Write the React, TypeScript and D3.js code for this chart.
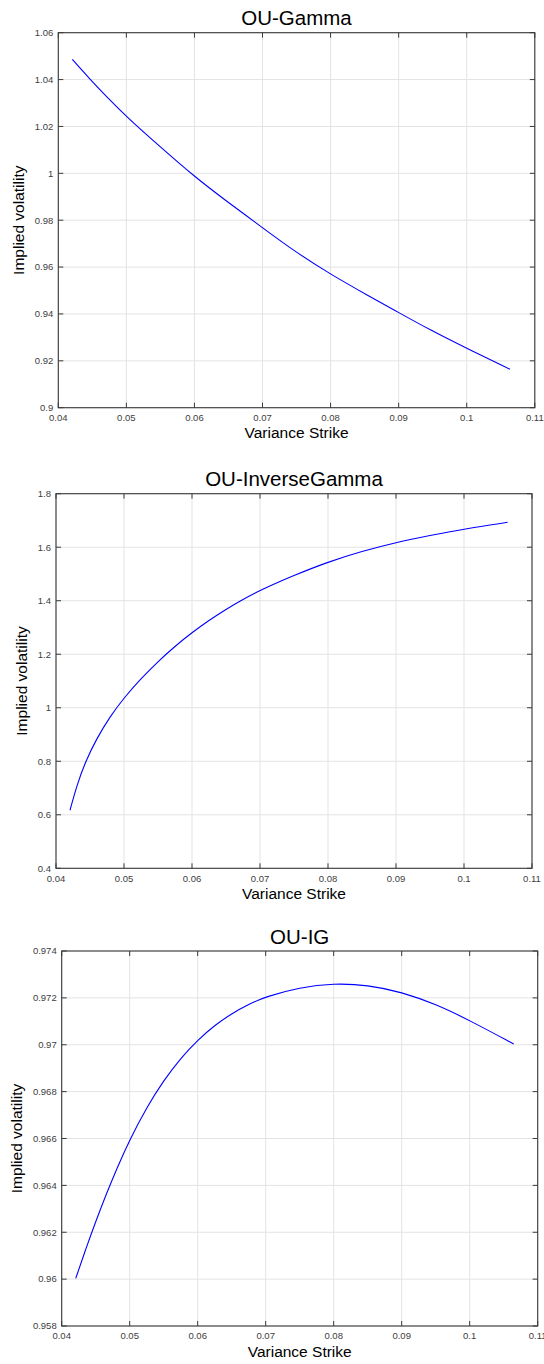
import React from "react";
import * as d3 from "d3";

// ---------- data ----------
const xTicks = [0.04, 0.05, 0.06, 0.07, 0.08, 0.09, 0.1, 0.11];
const xTickLabels = ["0.04", "0.05", "0.06", "0.07", "0.08", "0.09", "0.1", "0.11"];

const gammaStrike = [0.04206, 0.04465, 0.0471, 0.05, 0.05494, 0.06, 0.06449, 0.07, 0.07477, 0.08, 0.08554, 0.09, 0.0946, 0.1, 0.10636];
const gammaVol = [1.0486, 1.0402, 1.0327, 1.0242, 1.0114, 0.9986, 0.9886, 0.9768, 0.9666, 0.9569, 0.9478, 0.9406, 0.9332, 0.9253, 0.9164];
const gammaYTicks = [0.9, 0.92, 0.94, 0.96, 0.98, 1, 1.02, 1.04, 1.06];
const gammaYTickLabels = ["0.9", "0.92", "0.94", "0.96", "0.98", "1", "1.02", "1.04", "1.06"];

const invGammaStrike = [0.04206, 0.04304, 0.04426, 0.04598, 0.04794, 0.05, 0.0525, 0.055, 0.0575, 0.06, 0.0625, 0.065, 0.0675, 0.07, 0.075, 0.08, 0.085, 0.09, 0.095, 0.1, 0.10642];
const invGammaVol = [0.617, 0.708, 0.795, 0.885, 0.967, 1.037, 1.109, 1.173, 1.23, 1.281, 1.327, 1.368, 1.405, 1.439, 1.495, 1.545, 1.585, 1.618, 1.644, 1.668, 1.693];
const invGammaYTicks = [0.4, 0.6, 0.8, 1, 1.2, 1.4, 1.6, 1.8];
const invGammaYTickLabels = ["0.4", "0.6", "0.8", "1", "1.2", "1.4", "1.6", "1.8"];

const igStrike = [0.04206, 0.04356, 0.04506, 0.04656, 0.04806, 0.05, 0.0525, 0.055, 0.0575, 0.06, 0.0625, 0.065, 0.0675, 0.07, 0.075, 0.08, 0.085, 0.09, 0.095, 0.1, 0.10647];
const igVol = [0.96003, 0.9613, 0.9625, 0.96363, 0.96469, 0.96595, 0.96733, 0.96848, 0.96943, 0.9702, 0.97083, 0.97133, 0.97173, 0.97205, 0.97245, 0.97262, 0.97255, 0.97225, 0.97173, 0.97104, 0.97003];
const igYTicks = [0.958, 0.96, 0.962, 0.964, 0.966, 0.968, 0.97, 0.972, 0.974];
const igYTickLabels = ["0.958", "0.96", "0.962", "0.964", "0.966", "0.968", "0.97", "0.972", "0.974"];

const titles = ["OU-Gamma", "OU-InverseGamma", "OU-IG"];
const xLabel = "Variance Strike";
const yLabel = "Implied volatility";

// ---------- layout ----------
const FONT = "'Liberation Sans', Arial, Helvetica, sans-serif";

type Panel = {
  title: string;
  xs: number[];
  ys: number[];
  yTicks: number[];
  yTickLabels: string[];
  left: number;
  right: number;
  top: number;
  bottom: number;
  yLabelX: number;
};

const panels: Panel[] = [
  { title: titles[0], xs: gammaStrike, ys: gammaVol, yTicks: gammaYTicks, yTickLabels: gammaYTickLabels, left: 58.3, right: 534.8, top: 32.7, bottom: 407.7, yLabelX: 24 },
  { title: titles[1], xs: invGammaStrike, ys: invGammaVol, yTicks: invGammaYTicks, yTickLabels: invGammaYTickLabels, left: 56, right: 532, top: 493.7, bottom: 868.3, yLabelX: 27 },
  { title: titles[2], xs: igStrike, ys: igVol, yTicks: igYTicks, yTickLabels: igYTickLabels, left: 61.7, right: 537.7, top: 951, bottom: 1326, yLabelX: 22 },
];

function Chart({ p }: { p: Panel }) {
  const x = d3.scaleLinear().domain([xTicks[0], xTicks[xTicks.length - 1]]).range([p.left, p.right]);
  const y = d3.scaleLinear().domain([p.yTicks[0], p.yTicks[p.yTicks.length - 1]]).range([p.bottom, p.top]);
  const pts: [number, number][] = p.xs.map((v, i) => [v, p.ys[i]]);
  const line = d3.line<[number, number]>().x((d) => x(d[0])).y((d) => y(d[1])).curve(d3.curveBasis);
  const tickLen = 5;
  const axisColor = "#3a3a3a";
  const gridColor = "#e3e3e3";
  const tickTextColor = "#404040";
  const cx = (p.left + p.right) / 2;
  const cy = (p.top + p.bottom) / 2;
  return (
    <g>
      {xTicks.map((t, i) => (
        <line key={"gx" + i} x1={x(t)} x2={x(t)} y1={p.top} y2={p.bottom} stroke={gridColor} strokeWidth={1} />
      ))}
      {p.yTicks.map((t, i) => (
        <line key={"gy" + i} x1={p.left} x2={p.right} y1={y(t)} y2={y(t)} stroke={gridColor} strokeWidth={1} />
      ))}
      <path d={line(pts) || ""} fill="none" stroke="#0000ff" strokeWidth={1.1} />
      <rect x={p.left} y={p.top} width={p.right - p.left} height={p.bottom - p.top} fill="none" stroke={axisColor} strokeWidth={1.1} />
      {xTicks.map((t, i) => (
        <g key={"tx" + i}>
          <line x1={x(t)} x2={x(t)} y1={p.bottom} y2={p.bottom - tickLen} stroke={axisColor} strokeWidth={1} />
          <line x1={x(t)} x2={x(t)} y1={p.top} y2={p.top + tickLen} stroke={axisColor} strokeWidth={1} />
          <text x={x(t)} y={p.bottom + 13.2} textAnchor="middle" fontSize={9.5} fill={tickTextColor} fontFamily={FONT}>
            {xTickLabels[i]}
          </text>
        </g>
      ))}
      {p.yTicks.map((t, i) => (
        <g key={"ty" + i}>
          <line x1={p.left} x2={p.left + tickLen} y1={y(t)} y2={y(t)} stroke={axisColor} strokeWidth={1} />
          <line x1={p.right} x2={p.right - tickLen} y1={y(t)} y2={y(t)} stroke={axisColor} strokeWidth={1} />
          <text x={p.left - 5} y={y(t)} dy="0.35em" textAnchor="end" fontSize={9.5} fill={tickTextColor} fontFamily={FONT}>
            {p.yTickLabels[i]}
          </text>
        </g>
      ))}
      <text x={cx} y={p.top - 7.5} textAnchor="middle" fontSize={20.5} fill="#000" fontFamily={FONT}>
        {p.title}
      </text>
      <text x={cx} y={p.bottom + 30.5} textAnchor="middle" fontSize={15.5} fill="#000" fontFamily={FONT}>
        {xLabel}
      </text>
      <text transform={`translate(${p.yLabelX},${cy}) rotate(-90)`} textAnchor="middle" fontSize={15.5} fill="#000" fontFamily={FONT}>
        {yLabel}
      </text>
    </g>
  );
}

export default function App() {
  return (
    <svg
      width={544}
      height={1364}
      viewBox="0 0 544 1364"
      style={{ position: "absolute", left: 0, top: 0, display: "block", background: "#fff" }}
    >
      <rect x={0} y={0} width={544} height={1364} fill="#fff" />
      {panels.map((p, i) => (
        <Chart key={i} p={p} />
      ))}
    </svg>
  );
}
